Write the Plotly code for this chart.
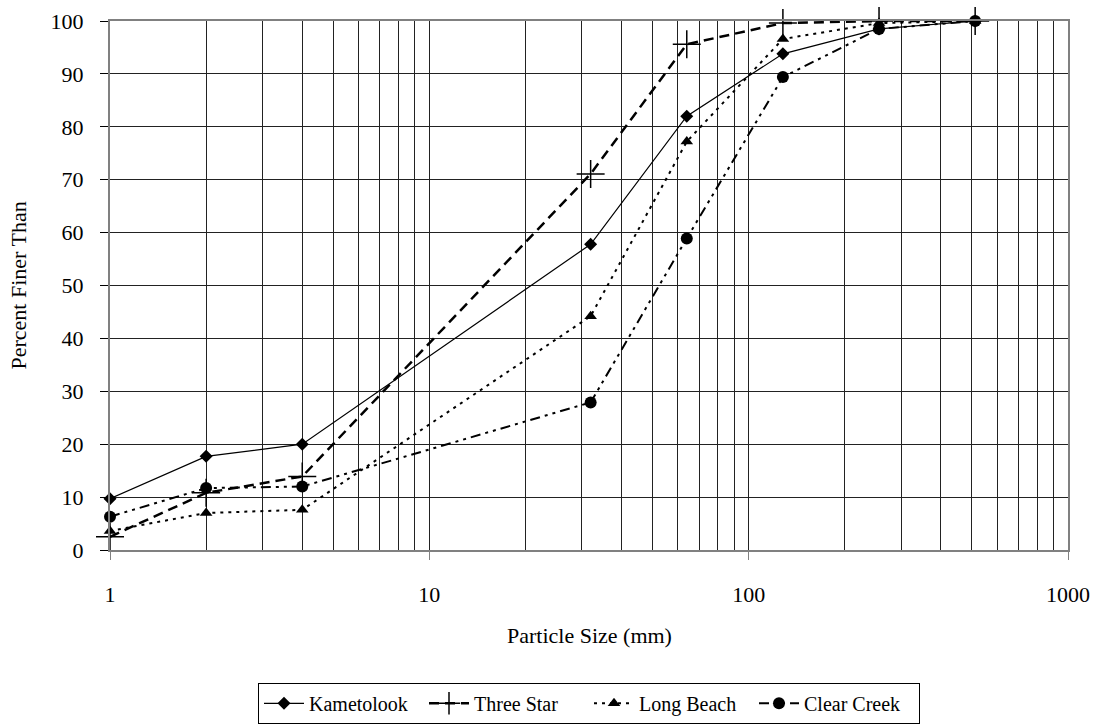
import plotly.graph_objects as go

sizes = [1, 2, 4, 32, 64, 128, 256, 512]
kametolook = [9.7, 17.7, 20.0, 57.8, 82.0, 93.8, 98.5, 100.0]
three_star = [2.5, 10.8, 13.9, 71.1, 95.6, 99.6, 100.0, 100.0]
long_beach = [3.6, 7.0, 7.6, 44.2, 77.2, 96.6, 99.6, 100.0]
clear_creek = [6.3, 11.7, 12.0, 27.9, 58.9, 89.4, 98.5, 100.0]

y_ticks = list(range(0, 101, 10))
x_major = [1, 10, 100, 1000]
x_labels = ["1", "10", "100", "1000"]

FONT = "Liberation Serif, DejaVu Serif, serif"

fig = go.Figure()
fig.add_trace(go.Scatter(
    x=sizes, y=kametolook, name="Kametolook", mode="lines+markers", cliponaxis=False,
    line=dict(color="black", width=1.2),
    marker=dict(symbol="diamond", size=10, color="black")))
fig.add_trace(go.Scatter(
    x=sizes, y=three_star, name="Three Star", mode="lines+markers", cliponaxis=False,
    line=dict(color="black", width=2.5, dash="10px,6px"),
    marker=dict(symbol="cross-thin", size=20, color="black",
                line=dict(color="black", width=1.5))))
fig.add_trace(go.Scatter(
    x=sizes, y=long_beach, name="Long Beach", mode="lines+markers", cliponaxis=False,
    line=dict(color="black", width=2, dash="3px,5px"),
    marker=dict(symbol="triangle-up", size=11, color="black")))
fig.add_trace(go.Scatter(
    x=sizes, y=clear_creek, name="Clear Creek", mode="lines+markers", cliponaxis=False,
    line=dict(color="black", width=2, dash="10px,5px,3px,5px,3px,5px"),
    marker=dict(symbol="circle", size=12, color="black")))

minor_vals = [m * 10 ** d for d in range(3) for m in range(2, 10)]

fig.update_layout(
    width=1099, height=727,
    margin=dict(l=110, r=31, t=21, b=177, autoexpand=False),
    paper_bgcolor="white", plot_bgcolor="white",
    font=dict(family=FONT, size=20, color="black"),
    showlegend=True,
    legend=dict(orientation="h", x=0.5, xanchor="center", y=-0.251, yanchor="top",
                bordercolor="black", borderwidth=1,
                font=dict(family=FONT, size=20, color="black"),
                itemwidth=40, tracegroupgap=0,
                entrywidth=110, entrywidthmode="pixels"),
    xaxis=dict(type="log", range=[0, 3],
               tickmode="array", tickvals=x_major, ticktext=x_labels,
               ticks="outside", ticklen=8, tickcolor="#808080",
               ticklabelstandoff=16,
               showgrid=True, gridcolor="#222222", gridwidth=1,
               minor=dict(tickmode="array", tickvals=minor_vals, showgrid=True,
                          gridcolor="#222222", gridwidth=1, ticks=""),
               showline=True, linecolor="#808080", linewidth=2, mirror=True,
               zeroline=False, tickfont=dict(family=FONT, size=22)),
    yaxis=dict(range=[0, 100], tickmode="array", tickvals=y_ticks,
               ticks="outside", ticklen=8, tickcolor="black",
               ticklabelstandoff=12,
               showgrid=True, gridcolor="#222222", gridwidth=1,
               showline=True, linecolor="#808080", linewidth=2, mirror=True,
               zeroline=False, tickfont=dict(family=FONT, size=22)),
    annotations=[
        dict(text="Percent Finer Than", xref="paper", yref="paper",
             x=-0.096, y=0.5, xanchor="center", yanchor="middle",
             textangle=-90, showarrow=False,
             font=dict(family=FONT, size=22)),
        dict(text="Particle Size (mm)", xref="paper", yref="paper",
             x=0.5, y=-0.1607, xanchor="center", yanchor="middle", showarrow=False,
             font=dict(family=FONT, size=22)),
    ],
)

fig.write_html("out.html")
